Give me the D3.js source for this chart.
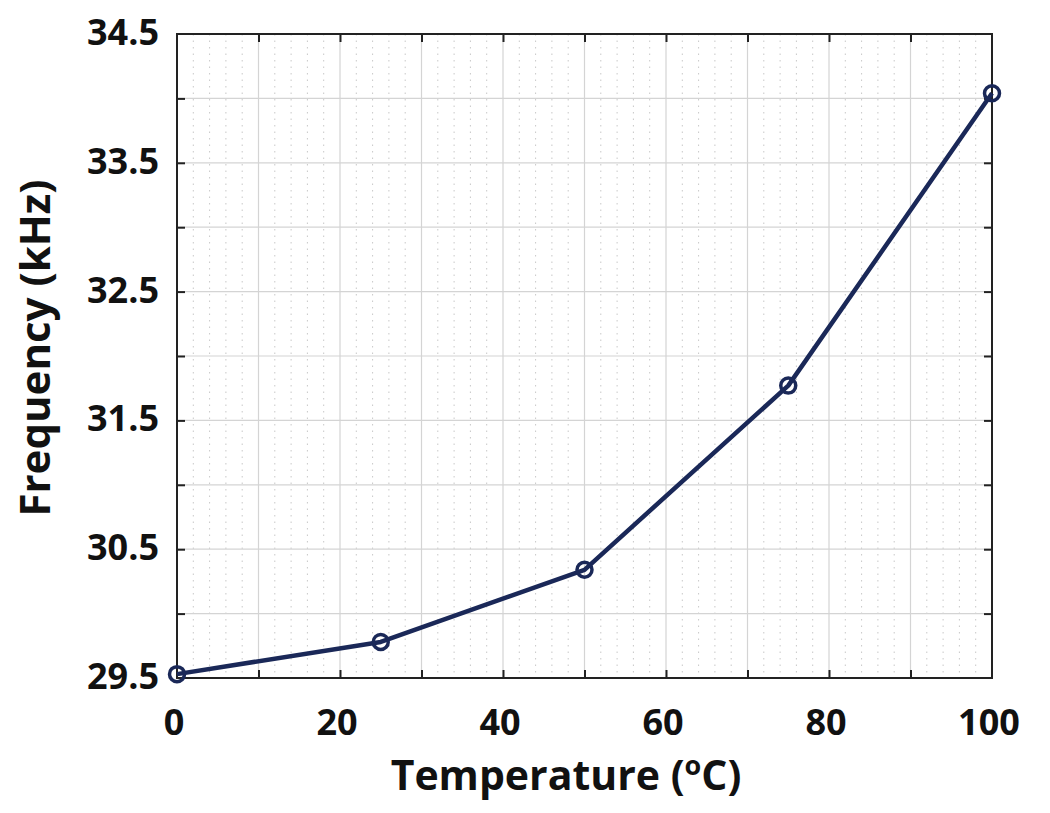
<!DOCTYPE html>
<html>
<head>
<meta charset="utf-8">
<script src="https://cdn.jsdelivr.net/npm/d3@7"></script>
<style>
  body { margin: 0; background: #fff; }
  svg { display: block; }
</style>
</head>
<body>
<svg width="1050" height="813"></svg>
<script>
// データ
var temps = [0, 25, 50, 75, 100];
var freqs = [29.53, 29.78, 30.34, 31.77, 34.04];

// 目盛り
var xLabelTicks = [0, 20, 40, 60, 80, 100];
var yLabelTicks = [29.5, 30.5, 31.5, 32.5, 33.5, 34.5];

var LINE_COLOR = "#1a2858";
var FONT = "'Open Sans', 'Noto Sans', sans-serif";

var svg = d3.select("svg").style("font-family", FONT);

// 描画領域 (window.top と被らないように名前を変える)
var pL = 177, pR = 992, pT = 34, pB = 678;
var x = d3.scaleLinear().domain([0, 100]).range([pL, pR]);
var y = d3.scaleLinear().domain([29.5, 34.5]).range([pB, pT]);

var g = svg.append("g");

// 補助グリッド(点線)
g.selectAll(".minor-x")
    .data(d3.range(2, 100, 2).filter(function(d){ return d % 10 != 0; }))
    .enter()
    .append("line")
    .attr("x1", function(d){ return x(d); })
    .attr("x2", function(d){ return x(d); })
    .attr("y1", pT)
    .attr("y2", pB)
    .attr("stroke", "#c8c8c8")
    .attr("stroke-width", 1)
    .attr("stroke-dasharray", "1.5,5")
;

// 主グリッド
var majorX = d3.range(10, 100, 10);
var majorY = d3.range(30, 34.5, 0.5);
g.selectAll(".major-x")
    .data(majorX)
    .enter()
    .append("line")
    .attr("x1", function(d){ return x(d); })
    .attr("x2", function(d){ return x(d); })
    .attr("y1", pT)
    .attr("y2", pB)
    .attr("stroke", "#d4d4d4")
    .attr("stroke-width", 1.2)
;
g.selectAll(".major-y")
    .data(majorY)
    .enter()
    .append("line")
    .attr("x1", pL)
    .attr("x2", pR)
    .attr("y1", function(d){ return y(d); })
    .attr("y2", function(d){ return y(d); })
    .attr("stroke", "#d4d4d4")
    .attr("stroke-width", 1.2)
;

// 内向きの目盛り(上下左右)
var tickLen = 8;
var xb = d3.axisBottom(x).tickValues(majorX).tickSize(-tickLen).tickFormat("");
var xt = d3.axisTop(x).tickValues(majorX).tickSize(-tickLen).tickFormat("");
var yl = d3.axisLeft(y).tickValues(majorY).tickSize(-tickLen).tickFormat("");
var yr = d3.axisRight(y).tickValues(majorY).tickSize(-tickLen).tickFormat("");
[
    [xb, "translate(0," + pB + ")"],
    [xt, "translate(0," + pT + ")"],
    [yl, "translate(" + pL + ",0)"],
    [yr, "translate(" + pR + ",0)"],
].forEach(function(a){
    var ax = g.append("g").attr("transform", a[1]).call(a[0]);
    ax.select(".domain").remove();
    ax.selectAll(".tick line").attr("stroke", "#222").attr("stroke-width", 2);
});

// 枠
g.append("rect")
    .attr("x", pL)
    .attr("y", pT)
    .attr("width", pR - pL)
    .attr("height", pB - pT)
    .attr("fill", "none")
    .attr("stroke", "#222")
    .attr("stroke-width", 2)
;

// ラベル
g.selectAll(".xlab")
    .data(xLabelTicks)
    .enter()
    .append("text")
    .attr("x", function(d){ return x(d) - 3; })
    .attr("y", 735)
    .attr("text-anchor", "middle")
    .attr("font-size", 36)
    .attr("font-weight", "bold")
    .attr("fill", "#111")
    .text(function(d){ return d; })
;
g.selectAll(".ylab")
    .data(yLabelTicks)
    .enter()
    .append("text")
    .attr("x", 159)
    .attr("y", function(d){ return y(d) + 11; })
    .attr("text-anchor", "end")
    .attr("font-size", 36)
    .attr("font-weight", "bold")
    .attr("fill", "#111")
    .text(function(d){ return d.toFixed(1); })
;

// 軸タイトル
var xt_text = g.append("text")
    .attr("x", 566)
    .attr("y", 790)
    .attr("text-anchor", "middle")
    .attr("font-size", 41)
    .attr("font-weight", "bold")
    .attr("fill", "#111");
xt_text.append("tspan").text("Temperature (");
xt_text.append("tspan").attr("font-size", 27).attr("dy", -15).text("o");
xt_text.append("tspan").attr("dy", 15).text("C)");

g.append("text")
    .attr("transform", "translate(50,348) rotate(-90)")
    .attr("text-anchor", "middle")
    .attr("font-size", 42)
    .attr("font-weight", "bold")
    .attr("fill", "#111")
    .text("Frequency (kHz)")
;

// 折れ線
var pts = temps.map(function(t, i){ return [t, freqs[i]]; });
g.append("path")
    .datum(pts)
    .attr("d", d3.line().x(function(d){ return x(d[0]); }).y(function(d){ return y(d[1]); }))
    .attr("fill", "none")
    .attr("stroke", LINE_COLOR)
    .attr("stroke-width", 4.5)
    .attr("stroke-linejoin", "round")
;
g.selectAll(".pt")
    .data(pts)
    .enter()
    .append("circle")
    .attr("cx", function(d){ return x(d[0]); })
    .attr("cy", function(d){ return y(d[1]); })
    .attr("r", 7.5)
    .attr("fill", "none")
    .attr("stroke", LINE_COLOR)
    .attr("stroke-width", 3.5)
;
</script>
</body>
</html>
